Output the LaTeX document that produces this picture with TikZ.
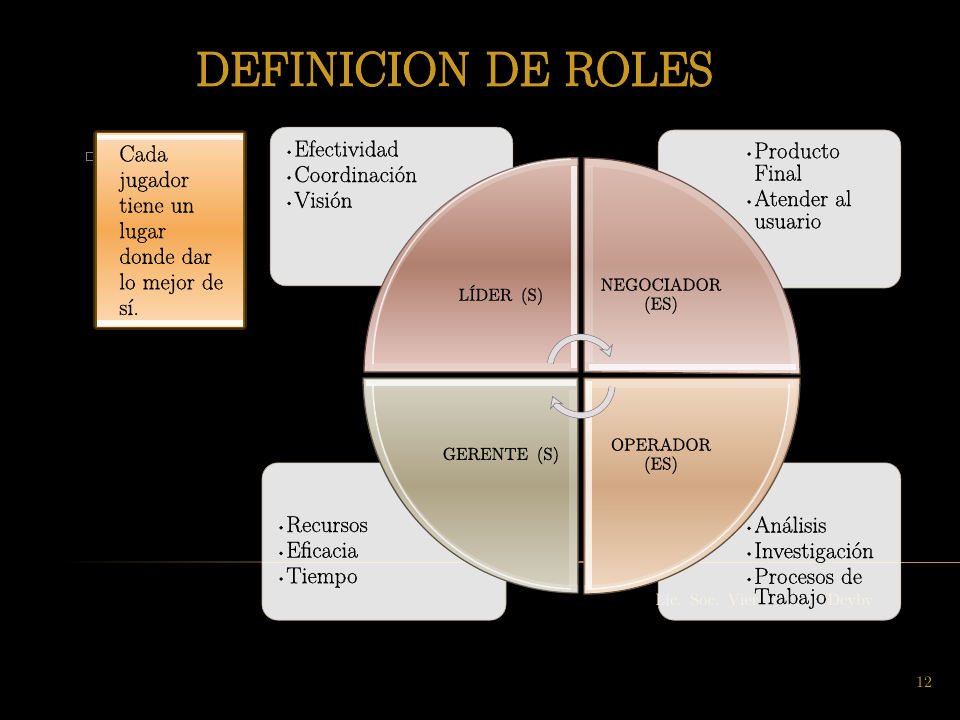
\documentclass[tikz,border=0pt]{standalone}
\usepackage{fontspec}
\usepackage{tikz}
\usetikzlibrary{arrows.meta}
\newfontfamily\titlefont[FakeBold=3.2]{Latin Modern Roman}
\newfontfamily\bodyfont[FakeBold=0.5]{Latin Modern Roman}
\definecolor{titlegold}{HTML}{C9981F}
\definecolor{boxgray}{HTML}{E4E4E4}
\definecolor{boxedge}{HTML}{B8A89A}
\definecolor{lineorange}{HTML}{C8964E}
\definecolor{linepale}{HTML}{F6EFD8}
\definecolor{glowbrown}{HTML}{70500F}
\definecolor{glowdark}{HTML}{382806}
\definecolor{sidelight}{HTML}{FDD9B2}
\definecolor{sidemid}{HTML}{F5AA55}
\definecolor{liderlight}{HTML}{DDBDB2}
\definecolor{lidermid}{HTML}{B07F6F}
\definecolor{liderlow}{HTML}{E6C8C2}
\definecolor{negomid}{HTML}{C59C8E}
\definecolor{negolow}{HTML}{EAD6D2}
\definecolor{gerlight}{HTML}{D6D3C4}
\definecolor{germid}{HTML}{AEA385}
\definecolor{operlight}{HTML}{F0D9C2}
\definecolor{opermid}{HTML}{D2A883}
\definecolor{cycfill}{HTML}{E2DCDE}
\newcommand{\itm}{\makebox[7.5pt][l]{\raisebox{.15ex}{\small\textbullet}}}
\newcommand{\nolab}{\hspace*{7.5pt}}
\tikzset{
  rolebox/.style={draw=boxedge,line width=0.5pt,fill=boxgray,rounded corners=12pt},
  listtxt/.style={anchor=north west,inner sep=0pt,align=left,text=black,font=\fontsize{17.3}{19.2}\bodyfont},
  roletxt/.style={inner sep=0pt,align=center,text=black,font=\fontsize{13}{14.2}\bodyfont},
  quad/.style={draw=#1,line width=1pt},
  bevel/.style={draw=white,line width=4.5pt,opacity=.75},
  bevelarc/.style={draw=white,line width=6pt,opacity=.22},
  bevelline/.style={draw=white,line width=1.2pt,opacity=.7},
  band/.style={draw=white,line width=6pt,opacity=.2},
  cyc/.style={draw=black!50,line width=0.5pt,double=cycfill,double distance=4pt,
    -{Stealth[length=9pt,width=11pt,fill=cycfill]}},
}
\begin{document}
\begin{tikzpicture}[x=0.75pt,y=-0.75pt]
    \useasboundingbox (0,0) rectangle (960,720);
    \fill[black] (0,0) rectangle (960,720);

    \node[inner sep=0pt,text=titlegold,font=\fontsize{36.2}{42}\titlefont] (title) at (454.5,69) {DEFINICION DE ROLES};

    % rule and page number
    \shade[left color=black,right color=lineorange] (60,561.6) rectangle (700,562.6);
    \fill[lineorange] (700,561.6) rectangle (960,562.6);
    \node[inner sep=0pt,text=titlegold!90,font=\fontsize{12}{14}\selectfont] (pagenum) at (924,682) {12};

    % left box
    \node[draw=gray,line width=0.5pt,inner sep=0pt,minimum size=6.5pt] (sqbullet) at (91,156.5) {};
    \draw[draw=glowdark,line width=6pt,line join=round] (97,134) rectangle (243,326);
    \draw[draw=glowbrown,line width=3pt,line join=round] (97,134) rectangle (243,326);
    \node[minimum width=109.5pt,minimum height=144pt,inner sep=0pt,
      top color=sidelight,bottom color=sidelight,middle color=sidemid] (side) at (170,230) {};
    \fill[white,opacity=.85] (97,135) rectangle (243,140);
    \fill[white,opacity=.85] (97,320) rectangle (243,325.5);
    \node[listtxt] (sidetext) at (119,145) {Cada\\jugador\\tiene un\\lugar\\donde dar\\lo mejor de\\sí.};

    % role boxes
    \node[rolebox,minimum width=182pt,minimum height=119pt] (boxlider) at (391.5,206.5) {};
    \node[rolebox,minimum width=182pt,minimum height=118.5pt] (boxnego) at (779.5,209) {};
    \node[rolebox,minimum width=183pt,minimum height=118pt] (boxger) at (384,541.5) {};
    \node[rolebox,minimum width=182pt,minimum height=118pt] (boxoper) at (779.5,541.5) {};
    \draw[linepale,line width=0.7pt] (262,562) -- (506,562) (658,562) -- (901,562);

    \node[inner sep=0pt,text width=163.5pt,text=linepale!70!white,font=\fontsize{12.5}{14}\selectfont,anchor=west] (footer) at (655,601) {Lic. Soc. Vier\hfill Deyby};

    % quadrants
    \shade[top color=liderlight,bottom color=liderlow,middle color=lidermid]
      (578,372) -- (364,372) arc[start angle=180,end angle=270,radius=214] -- cycle;
    \draw[quad=lidermid!60!black] (578,372) -- (364,372) arc[start angle=180,end angle=270,radius=214] -- cycle;
    \draw[bevelarc] (369,370) arc[start angle=180,end angle=270,radius=209];
    \draw[band] (372,366.5) -- (570,366.5);
    \draw[bevel] (573.5,166) -- (573.5,368);
    \draw[bevelline] (373,364) arc[start angle=180,end angle=268,radius=205];

    \shade[top color=liderlight,bottom color=negolow,middle color=negomid]
      (584,372) -- (584,158) arc[start angle=270,end angle=360,radius=216] -- cycle;
    \draw[quad=lidermid!60!black] (584,372) -- (584,158) arc[start angle=270,end angle=360,radius=216] -- cycle;
    \draw[bevelarc] (586,163) arc[start angle=270,end angle=360,radius=209];
    \draw[band] (589,166) -- (589,362);
    \draw[bevel] (589,367) -- (796,367);

    \shade[top color=gerlight,bottom color=gerlight,middle color=germid]
      (578,378) -- (363,378) arc[start angle=180,end angle=90,radius=215] -- cycle;
    \draw[quad=germid!50!black] (578,378) -- (363,378) arc[start angle=180,end angle=90,radius=215] -- cycle;
    \draw[bevelarc] (369,380) arc[start angle=180,end angle=90,radius=209];
    \draw[band] (572.5,390) -- (572.5,586);
    \draw[bevel] (366,382.5) -- (576,382.5);
    \draw[bevelline] (373,384) arc[start angle=180,end angle=92,radius=205];

    \shade[top color=operlight,bottom color=operlight,middle color=opermid]
      (584,378) -- (800,378) arc[start angle=0,end angle=90,radius=216] -- cycle;
    \draw[quad=opermid!50!black] (584,378) -- (800,378) arc[start angle=0,end angle=90,radius=216] -- cycle;
    \draw[bevelarc] (793,380) arc[start angle=0,end angle=90,radius=209];
    \draw[band] (592,384) -- (794,384);
    \draw[bevel] (589,381) -- (589,590);
    \draw[bevelline] (789,384) arc[start angle=0,end angle=88,radius=205];

    % role names
    \node[roletxt] (lider) at (501,295) {LÍDER\, (S)};
    \node[roletxt] (nego) at (661,296) {NEGOCIADOR\\(ES)};
    \node[roletxt] (oper) at (661,456) {OPERADOR\\(ES)};
    \node[roletxt] (ger) at (501,455.5) {GERENTE\, (S)};

    % cycle arrows
    \draw[cyc] (550.4,363.2) arc[start angle=189,end angle=340,radius=31];
    \draw[cyc] (612,387) arc[start angle=5,end angle=158,radius=31];

    % lists
    \node[listtxt] (listlider) at (284,140) {\itm Efectividad\\\itm Coordinación\\\itm Visión};
    \node[listtxt] (listnego) at (744,142) {\itm Producto\\[-2.5pt]\nolab Final\\\itm Atender al\\[-2.5pt]\nolab usuario};
    \node[listtxt] (listger) at (276,516) {\itm Recursos\\\itm Eficacia\\\itm Tiempo};
    \node[listtxt] (listoper) at (744,516) {\itm Análisis\\\itm Investigación\\\itm Procesos de\\[-4pt]\nolab Trabajo};
\end{tikzpicture}
\end{document}
